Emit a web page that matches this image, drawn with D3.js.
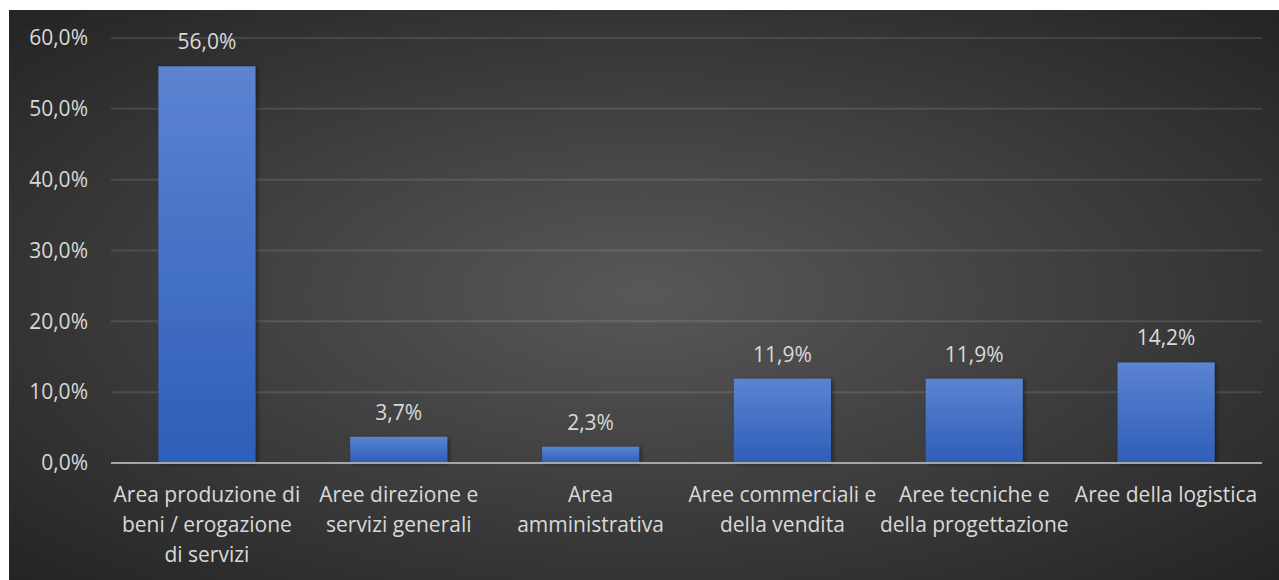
<!DOCTYPE html>
<html>
<head>
<meta charset="utf-8">
<script src="https://cdn.jsdelivr.net/npm/d3@7"></script>
<style>
  html, body { margin: 0; padding: 0; background: #ffffff; }
  svg { display: block; }
  text { font-family: "Open Sans", "Noto Sans", sans-serif; fill: #d9d9d9; }
</style>
</head>
<body>
<svg id="chart" width="1279" height="580"></svg>
<script>
// Share of hires by company area
const categories = [
  "Area produzione di\nbeni / erogazione\ndi servizi",
  "Aree direzione e\nservizi generali",
  "Area\namministrativa",
  "Aree commerciali e\ndella vendita",
  "Aree tecniche e\ndella progettazione",
  "Aree della logistica"
];
const values = [56.0, 3.7, 2.3, 11.9, 11.9, 14.2];
const yTicks = [0, 10, 20, 30, 40, 50, 60];

const W = 1279, H = 580;
const box = { x: 9, y: 10, w: W - 9, h: H - 10 };
const plot = { left: 111, right: 1262, top: 38, bottom: 463 };
const fontSize = 21;

const fmt = v => v.toFixed(1).replace(".", ",") + "%";

const svg = d3.select("#chart");
const defs = svg.append("defs");

// dark radial backdrop
const bg = defs.append("radialGradient").attr("id", "bg")
  .attr("cx", 0.5).attr("cy", 0.5).attr("r", 0.72);
bg.append("stop").attr("offset", 0).attr("stop-color", "#585858");
bg.append("stop").attr("offset", 1).attr("stop-color", "#232323");

// bar fill: lighter at the top, deeper blue at the base
const barGrad = defs.append("linearGradient").attr("id", "barGrad")
  .attr("x1", 0).attr("y1", 0).attr("x2", 0).attr("y2", 1);
barGrad.append("stop").attr("offset", 0).attr("stop-color", "#5b84d1");
barGrad.append("stop").attr("offset", 1).attr("stop-color", "#2e5eb8");

const shadow = defs.append("filter").attr("id", "shadow")
  .attr("x", "-10%").attr("y", "-10%").attr("width", "130%").attr("height", "130%");
shadow.append("feDropShadow").attr("dx", 2).attr("dy", 1)
  .attr("stdDeviation", 2).attr("flood-color", "#000").attr("flood-opacity", 0.45);

svg.append("rect")
  .attr("x", box.x).attr("y", box.y).attr("width", box.w).attr("height", box.h)
  .attr("fill", "url(#bg)");

const x = d3.scaleBand().domain(d3.range(categories.length))
  .range([plot.left, plot.right]).paddingInner(0.494).paddingOuter(0.247);
const y = d3.scaleLinear().domain([0, 60]).range([plot.bottom, plot.top]);

// gridlines
svg.append("g").selectAll("line").data(yTicks.filter(t => t > 0)).join("line")
  .attr("x1", plot.left).attr("x2", plot.right)
  .attr("y1", d => y(d)).attr("y2", d => y(d))
  .attr("stroke", "rgba(255,255,255,0.11)").attr("stroke-width", 2);

// y axis labels
const yAxis = d3.axisLeft(y).tickValues(yTicks).tickFormat(fmt).tickSize(0).tickPadding(0);
const ya = svg.append("g").attr("transform", `translate(88,0)`).call(yAxis);
ya.select(".domain").remove();
ya.selectAll("text").attr("fill", "#d9d9d9").style("font-size", fontSize + "px")
  .style("font-family", '"Open Sans", "Noto Sans", sans-serif');

// bars
svg.append("g").selectAll("rect").data(values).join("rect")
  .attr("x", (d, i) => x(i)).attr("width", x.bandwidth())
  .attr("y", d => y(d)).attr("height", d => y(0) - y(d))
  .attr("fill", "url(#barGrad)").attr("filter", "url(#shadow)");

// value labels
svg.append("g").selectAll("text").data(values).join("text")
  .attr("x", (d, i) => x(i) + x.bandwidth() / 2)
  .attr("y", d => y(d) - 17)
  .attr("text-anchor", "middle").style("font-size", fontSize + "px")
  .text(fmt);

// baseline
svg.append("line")
  .attr("x1", plot.left).attr("x2", plot.right)
  .attr("y1", y(0)).attr("y2", y(0))
  .attr("stroke", "#a6a6a6").attr("stroke-width", 2);

// category labels
const xa = svg.append("g");
categories.forEach((c, i) => {
  const t = xa.append("text")
    .attr("text-anchor", "middle").style("font-size", fontSize + "px");
  c.split("\n").forEach((line, k) => {
    t.append("tspan").attr("x", x(i) + x.bandwidth() / 2)
      .attr("y", 502 + k * 30).text(line);
  });
});
</script>
</body>
</html>
